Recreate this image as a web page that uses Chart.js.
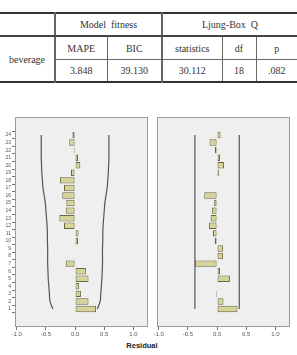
<!DOCTYPE html>
<html>
<head>
<meta charset="utf-8">
<script src="https://cdn.jsdelivr.net/npm/chart.js@4.4.1/dist/chart.umd.min.js"></script>
<style>
body{margin:0;width:297px;height:355px;background:#fff;position:relative;overflow:hidden;}
#fit{position:absolute;left:0;top:12px;width:297px;border-collapse:collapse;table-layout:fixed;
 font-family:"Liberation Serif","Times New Roman",serif;font-size:10px;color:#333;
 border-top:2px solid #333;border-bottom:2px solid #333;}
#fit td{text-align:center;padding:0;border-left:1px solid #666;white-space:pre;}
#fit td.first{border-left:none;}
#fit td.thick{border-left:2px solid #666;}
#fit tr.r1 td{height:21px;border-bottom:2px solid #444;}
#fit tr.r2 td{height:22px;border-bottom:1px solid #666;}
#fit tr.r3 td{height:21px;}
#c1{position:absolute;left:0;top:110px;}
#c2{position:absolute;left:152px;top:110px;}
#res{position:absolute;left:112px;top:341px;width:60px;text-align:center;
 font:bold 7.5px "Liberation Sans",Arial,sans-serif;color:#222;}
</style>
</head>
<body>
<table id="fit">
<colgroup><col style="width:55px"><col style="width:52px"><col style="width:55px"><col style="width:60px"><col style="width:34px"><col style="width:41px"></colgroup>
<tr class="r1"><td class="first"></td><td class="thick" colspan="2">Model  fitness</td><td class="thick" colspan="3">Ljung-Box  Q</td></tr>
<tr class="r2"><td class="first" rowspan="2">beverage</td><td class="thick">MAPE</td><td>BIC</td><td class="thick">statistics</td><td>df</td><td>p</td></tr>
<tr class="r3"><td class="thick">3.848</td><td>39.130</td><td class="thick">30.112</td><td>18</td><td>.082</td></tr>
</table>
<canvas id="c1" width="152" height="230"></canvas>
<canvas id="c2" width="145" height="230"></canvas>
<div id="res">Residual</div>
<script>
// lags and residual autocorrelations
const lags = [1,2,3,4,5,6,7,8,9,10,11,12,13,14,15,16,17,18,19,20,21,22,23,24];
const acf = [0.36,0.23,0.10,0.07,0.23,0.19,-0.16,-0.01,-0.01,0.05,0.06,-0.19,-0.27,-0.16,-0.15,-0.22,-0.19,-0.26,-0.07,0.09,0.05,-0.02,-0.10,-0.045];
const acfBound = [0.38,0.43,0.44,0.45,0.46,0.465,0.47,0.47,0.47,0.475,0.475,0.48,0.49,0.50,0.51,0.53,0.55,0.56,0.57,0.575,0.58,0.58,0.58,0.58];
const pacf = [0.35,0.11,-0.02,0.01,0.22,0.05,-0.38,0.10,0.10,-0.04,-0.07,-0.14,-0.11,-0.09,-0.05,-0.22,0.01,-0.01,0.03,0.12,0.05,-0.04,-0.13,0.06];
const pacfBound = [0.38,0.38];
const pacfBoundLags = [1,24];
const xTicks = [-1.0,-0.5,0.0,0.5,1.0];

const BAR = "rgb(214,211,152)";
const BAR_EDGE = "rgb(105,105,62)";
const LINE = "#555";

//panel background + frame
const framePlugin = {
  id: "frame",
  beforeDraw(chart){
    const a = chart.chartArea, c = chart.ctx;
    c.save();
    c.fillStyle = "#efefef";
    c.fillRect(a.left,a.top,a.right-a.left,a.bottom-a.top);
    c.restore();
  },
  afterDraw(chart){
    const a = chart.chartArea, c = chart.ctx;
    c.save();
    c.strokeStyle = "#9a9a9a";
    c.lineWidth = 1;
    c.strokeRect(a.left+0.5,a.top+0.5,a.right-a.left-1,a.bottom-a.top-1);
    c.restore();
  }
};

function pts(xs, ys, sign){
  return xs.map((v,i)=>({x: sign*v, y: ys[i]}));
}

function panel(id, values, bound, boundLags, showY, pad, yWidth, curved){
  return new Chart(document.getElementById(id),{
    type: "bar",
    data: {
      datasets: [
        {type:"bar", data: pts(values,lags,1), backgroundColor: BAR, borderColor: BAR_EDGE,
         borderWidth: 1, barPercentage: 0.85, categoryPercentage: 1, borderSkipped: false},
        {type:"line", data: pts(bound,boundLags,1), borderColor: LINE, borderWidth: 1.2,
         pointRadius: 0, tension: curved ? 0.35 : 0, fill: false},
        {type:"line", data: pts(bound,boundLags,-1), borderColor: LINE, borderWidth: 1.2,
         pointRadius: 0, tension: curved ? 0.35 : 0, fill: false}
      ]
    },
    options: {
      indexAxis: "y",
      responsive: false,
      animation: false,
      layout: {padding: pad},
      plugins: {legend:{display:false}, tooltip:{enabled:false}},
      scales: {
        x: {
          type: "linear", min: -1.03, max: 1.25,
          afterBuildTicks: s => { s.ticks = xTicks.map(v=>({value:v})); },
          afterFit: s => { s.height = 13; },
          grid: {drawOnChartArea:false, tickLength:3, color:"#777"},
          border: {display:false},
          ticks: {callback: v => v.toFixed(1), font:{size:6, family:"Liberation Sans"}, color:"#555", padding:1, maxRotation:0}
        },
        y: {
          type: "linear", min: -0.8, max: 25.8,
          afterBuildTicks: s => { s.ticks = lags.map(v=>({value:v})); },
          afterFit: s => { s.width = yWidth; },
          grid: {display: showY, drawOnChartArea:false, tickLength:3, color:"#777"},
          border: {display:false},
          ticks: {display: showY, font:{size:5, family:"Liberation Sans"}, color:"#555", padding:1, autoSkip:false}
        }
      }
    },
    plugins: [framePlugin]
  });
}

panel("c1", acf, acfBound, lags, true, {top:7, right:4, left:0, bottom:0}, 15, true);
panel("c2", pacf, pacfBound, pacfBoundLags, false, {top:7, right:7, left:0, bottom:0}, 5, false);
</script>
</body>
</html>
